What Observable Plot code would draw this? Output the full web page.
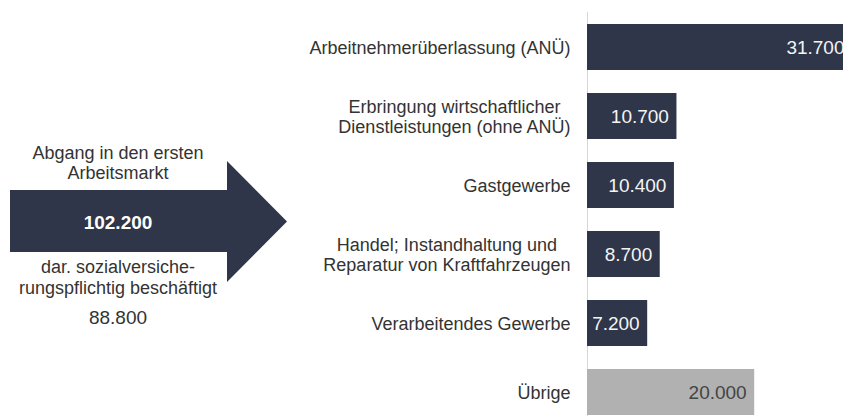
<!DOCTYPE html>
<html>
<head>
<meta charset="utf-8">
<script src="https://cdn.jsdelivr.net/npm/d3@7"></script>
<script src="https://cdn.jsdelivr.net/npm/@observablehq/plot@0.6"></script>
<style>
  html, body { margin: 0; padding: 0; overflow: hidden; background: #fff; }
  #chart { width: 843px; height: 416px; overflow: hidden; position: relative; }
  #chart svg { max-width: none !important; }
</style>
</head>
<body>
<div id="chart"></div>
<script>
// ---- data ----
const categories = [
  "Arbeitnehmerüberlassung (ANÜ)",
  "Erbringung wirtschaftlicher\nDienstleistungen (ohne ANÜ)",
  "Gastgewerbe",
  "Handel; Instandhaltung und\nReparatur von Kraftfahrzeugen",
  "Verarbeitendes Gewerbe",
  "Übrige"
];
const values = [31700, 10700, 10400, 8700, 7200, 20000];
const groups = ["main", "main", "main", "main", "main", "other"];
const arrowTitle = "Abgang in den ersten\nArbeitsmarkt";
const arrowTotal = 102200;
const arrowSubTitle = "dar. sozialversiche-\nrungspflichtig beschäftigt";
const arrowSub = 88800;

// ---- styles ----
const NAVY = "#2f3649";
const GRAY = "#b1b1b1";
const FONT = "Liberation Sans, Arial, sans-serif";

const de = d3.formatLocale({decimal: ",", thousands: ".", grouping: [3], currency: ["", " €"]});
const fmt = de.format(",d");

const data = categories.map((c, i) => ({category: c, value: values[i], group: groups[i]}));

const plot = Plot.plot({
  width: 852,
  height: 416,
  marginLeft: 587,
  marginRight: 0,
  marginTop: 12,
  marginBottom: 0,
  style: {fontFamily: FONT, background: "transparent", overflow: "visible", maxWidth: "none"},
  x: {domain: [0, 31700], axis: null},
  y: {domain: categories, range: [0.35, 439.7], padding: 0.33, axis: null},
  color: {domain: ["main", "other"], range: [NAVY, GRAY]},
  marks: [
    Plot.ruleX([0], {stroke: "#d6d6d6", strokeWidth: 1}),
    Plot.barX(data, {x: "value", y: "category", fill: "group"}),
    Plot.text(data, {
      x: "value", y: "category", text: d => fmt(d.value),
      textAnchor: "end", dx: -8, fontSize: 19,
      fill: d => d.group === "main" ? "#f4f4f4" : "#444444"
    }),
    Plot.text(data, {
      x: 0, y: "category", text: "category",
      textAnchor: "end", dx: -17, fontSize: 18, lineHeight: 1.11,
      fill: "#333333"
    })
  ]
});

document.getElementById("chart").appendChild(plot);

// center-align lines of multi-line category labels within their right-aligned block
d3.select(plot).selectAll("text").each(function () {
  const tspans = this.querySelectorAll("tspan");
  if (tspans.length > 1) {
    let w = 0;
    tspans.forEach(t => { w = Math.max(w, t.getComputedTextLength()); });
    this.setAttribute("text-anchor", "middle");
    tspans.forEach(t => t.setAttribute("x", -w / 2));
  }
});

// ---- arrow on the left (layout, not data) ----
const svg = d3.select(plot);
const g = svg.append("g").attr("font-family", FONT);
const A = {x0: 10, x1: 227, tip: 287, bodyTop: 190, bodyBot: 252, headTop: 161, headBot: 282};
g.append("path")
  .attr("fill", NAVY)
  .attr("d", d3.line()([
    [A.x0, A.bodyTop], [A.x1, A.bodyTop], [A.x1, A.headTop], [A.tip, (A.headTop + A.headBot) / 2],
    [A.x1, A.headBot], [A.x1, A.bodyBot], [A.x0, A.bodyBot]
  ]) + "Z");

const cx = 118;
function lines(txt, y0, lh, opts) {
  txt.split("\n").forEach((s, i) => {
    g.append("text")
      .attr("x", cx).attr("y", y0 + i * lh)
      .attr("text-anchor", "middle")
      .attr("font-size", opts.size)
      .attr("font-weight", opts.weight || "normal")
      .attr("fill", opts.fill)
      .text(s);
  });
}
lines(arrowTitle, 159, 20, {size: 18, fill: "#333333"});
lines(fmt(arrowTotal), 229, 20, {size: 19, weight: "bold", fill: "#ffffff"});
lines(arrowSubTitle, 273, 20.5, {size: 18, fill: "#333333"});
lines(fmt(arrowSub), 324, 20, {size: 19, fill: "#333333"});
</script>
</body>
</html>
